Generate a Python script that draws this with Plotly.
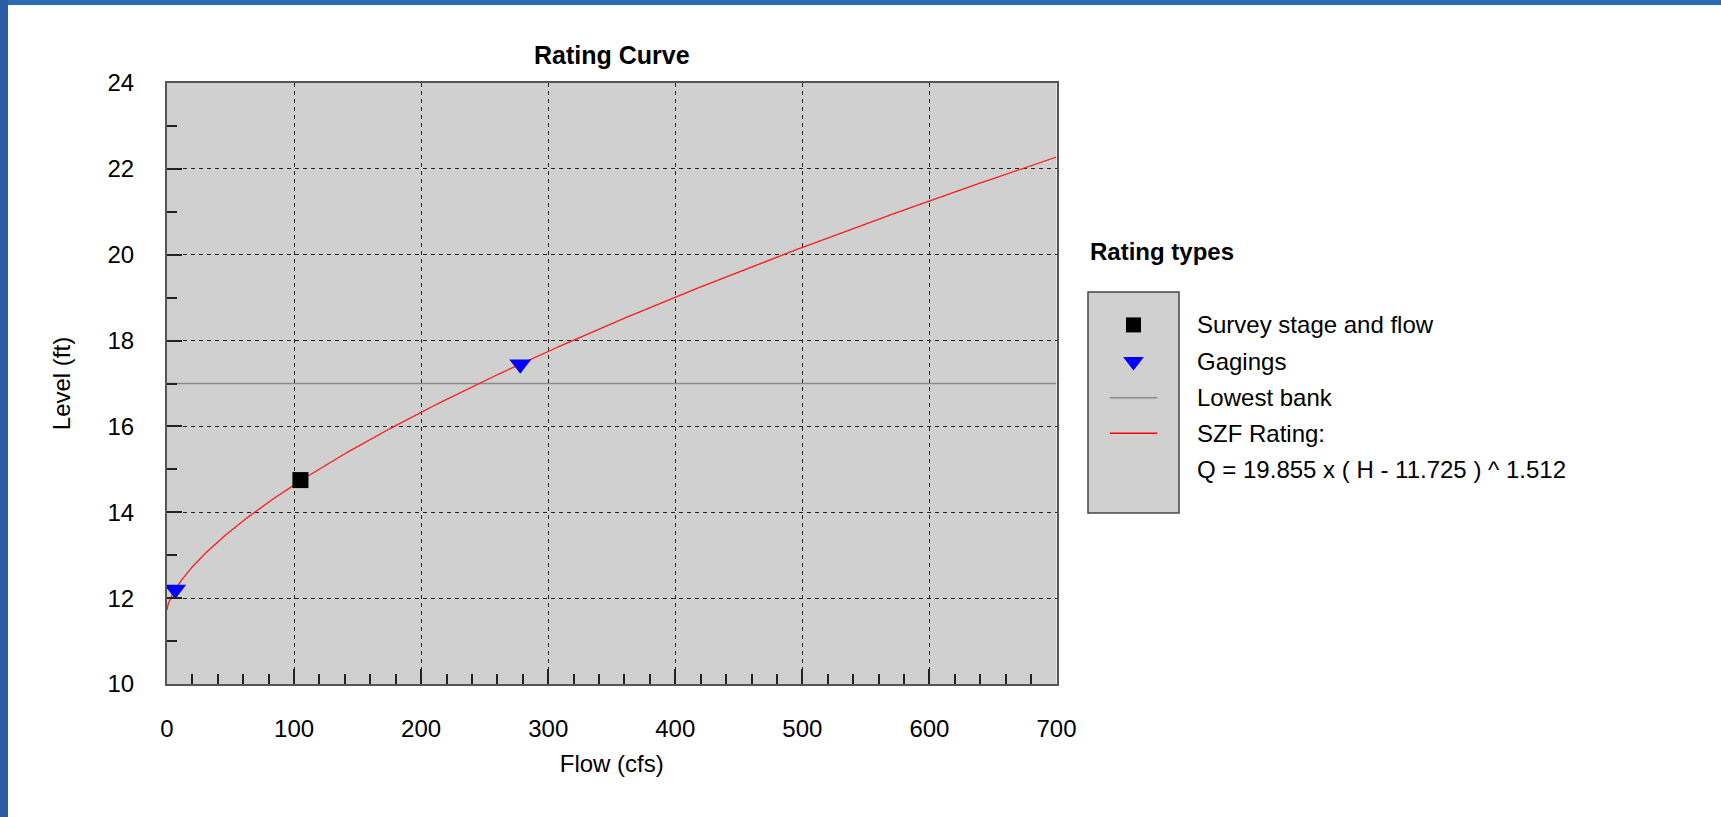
import numpy as np
import plotly.graph_objects as go

W, H = 1721, 817

# ---- data ----
survey_flow = [105.0]
survey_level = [14.75]

gaging_flow = [6.5, 278.0]
gaging_level = [12.2, 17.45]

lowest_bank_level = 17.0

# SZF rating: Q = C * (H - H0) ^ b
rating_c = 19.855
rating_h0 = 11.725
rating_b = 1.512

x_ticks = [0, 100, 200, 300, 400, 500, 600, 700]
y_ticks = [10, 12, 14, 16, 18, 20, 22, 24]

legend_labels = [
    "Survey stage and flow",
    "Gagings",
    "Lowest bank",
    "SZF Rating:",
    "Q = 19.855 x ( H - 11.725 ) ^ 1.512",
]

# ---- layout helpers (pixel -> paper fractions, margins are zero) ----
def px(x):
    return x / W


def py(y):
    return 1 - y / H


PLOT_L, PLOT_R, PLOT_T, PLOT_B = 167, 1056.5, 83, 684
LEG_L, LEG_R, LEG_T, LEG_B = 1088, 1179, 292, 513

FONT = "Arial, Liberation Sans, sans-serif"
BG_GRAY = "#d0d0d0"

# rating curve across the flow axis
q_max = x_ticks[-1]
h_max = rating_h0 + (q_max / rating_c) ** (1 / rating_b)
levels = np.linspace(rating_h0, h_max, 400)
flows = rating_c * (levels - rating_h0) ** rating_b

fig = go.Figure()

fig.add_trace(go.Scatter(
    x=[x_ticks[0], x_ticks[-1]], y=[lowest_bank_level, lowest_bank_level],
    mode="lines", line=dict(color="#8a8a8a", width=1.5),
    showlegend=False, hoverinfo="skip",
))
fig.add_trace(go.Scatter(
    x=flows, y=levels, mode="lines",
    line=dict(color="#ff1a1a", width=1.3), showlegend=False,
))
fig.add_trace(go.Scatter(
    x=survey_flow, y=survey_level, mode="markers",
    marker=dict(symbol="square", size=16, color="black",
                line=dict(width=0)),
    showlegend=False,
))
fig.add_trace(go.Scatter(
    x=gaging_flow, y=gaging_level, mode="markers",
    marker=dict(symbol="triangle-down", size=19, color="#0000ff",
                line=dict(width=0)),
    showlegend=False,
))

# ---- key panel drawn on its own small subplot ----
row_y = [0.851, 0.685, 0.522, 0.361]
fig.add_trace(go.Scatter(
    x=[0.5], y=[row_y[0]], xaxis="x2", yaxis="y2", mode="markers",
    marker=dict(symbol="square", size=15, color="black", line=dict(width=0)),
    showlegend=False, hoverinfo="skip",
))
fig.add_trace(go.Scatter(
    x=[0.5], y=[row_y[1]], xaxis="x2", yaxis="y2", mode="markers",
    marker=dict(symbol="triangle-down", size=18, color="#0000ff",
                line=dict(width=0)),
    showlegend=False, hoverinfo="skip",
))
fig.add_trace(go.Scatter(
    x=[0.24, 0.76], y=[row_y[2], row_y[2]], xaxis="x2", yaxis="y2",
    mode="lines", line=dict(color="#8a8a8a", width=1.5),
    showlegend=False, hoverinfo="skip",
))
fig.add_trace(go.Scatter(
    x=[0.24, 0.76], y=[row_y[3], row_y[3]], xaxis="x2", yaxis="y2",
    mode="lines", line=dict(color="#ff0000", width=1.5),
    showlegend=False, hoverinfo="skip",
))

axis_common = dict(
    automargin=False,
    showline=True, mirror=True, linecolor="#555555", linewidth=2,
    ticks="inside", ticklen=15, tickwidth=1.5, tickcolor="#222222",
    showgrid=True, gridcolor="#222222", gridwidth=1, griddash="4px,4px",
    zeroline=False, tickfont=dict(family=FONT, size=24, color="black"),
)

fig.update_layout(
    width=W, height=H,
    margin=dict(l=0, r=0, t=0, b=0, pad=0),
    paper_bgcolor="white",
    plot_bgcolor=BG_GRAY,
    font=dict(family=FONT, color="black"),
    title=dict(
        text="<b>Rating Curve</b>", x=px((PLOT_L + PLOT_R) / 2), y=py(55),
        xanchor="center", yanchor="middle", xref="paper", yref="paper",
        font=dict(family=FONT, size=25, color="black"),
    ),
    xaxis=dict(
        domain=[px(PLOT_L), px(PLOT_R)], range=[x_ticks[0], x_ticks[-1]],
        tickvals=x_ticks, ticklabelstandoff=22,
        minor=dict(dtick=20, ticks="inside", ticklen=10, tickwidth=1.5,
                   tickcolor="#222222", showgrid=False),
        title=dict(text="Flow (cfs)", standoff=14,
                   font=dict(family=FONT, size=24, color="black")),
        **axis_common,
    ),
    yaxis=dict(
        domain=[py(PLOT_B), py(PLOT_T)], range=[y_ticks[0], y_ticks[-1]],
        tickvals=y_ticks, ticklabelstandoff=26,
        minor=dict(dtick=1, ticks="inside", ticklen=10, tickwidth=1.5,
                   tickcolor="#222222", showgrid=False),
        title=dict(text="Level (ft)", standoff=30,
                   font=dict(family=FONT, size=24, color="black")),
        **axis_common,
    ),
    xaxis2=dict(domain=[px(LEG_L), px(LEG_R)], range=[0, 1], visible=False,
                anchor="y2", fixedrange=True, automargin=False),
    yaxis2=dict(domain=[py(LEG_B), py(LEG_T)], range=[0, 1], visible=False,
                anchor="x2", fixedrange=True, automargin=False),
)

shapes = [
    # blue frame strips along the top and left edges
    dict(type="rect", xref="paper", yref="paper", x0=0, x1=1,
         y0=py(5), y1=1, fillcolor="#2a6cb1", line=dict(width=0)),
    dict(type="rect", xref="paper", yref="paper", x0=0, x1=px(8),
         y0=0, y1=1, fillcolor="#2b5ca4", line=dict(width=0)),
    # key panel border
    dict(type="rect", xref="paper", yref="paper",
         x0=px(LEG_L), x1=px(LEG_R), y0=py(LEG_B), y1=py(LEG_T),
         line=dict(color="#444444", width=1.5), fillcolor="rgba(0,0,0,0)"),
]
fig.update_layout(shapes=shapes)

annotations = [
    dict(text="<b>Rating types</b>", x=px(1088), y=py(252), xref="paper",
         yref="paper", xanchor="left", yanchor="middle", showarrow=False,
         font=dict(family=FONT, size=24, color="black")),
]
label_rows = [325, 361.5, 397.5, 433.5, 469.5]
for label, yy in zip(legend_labels, label_rows):
    annotations.append(dict(
        text=label, x=px(1195), y=py(yy), xref="paper", yref="paper",
        xanchor="left", yanchor="middle", showarrow=False,
        font=dict(family=FONT, size=24, color="black"),
    ))
fig.update_layout(annotations=annotations)

fig.write_html("out.html")
